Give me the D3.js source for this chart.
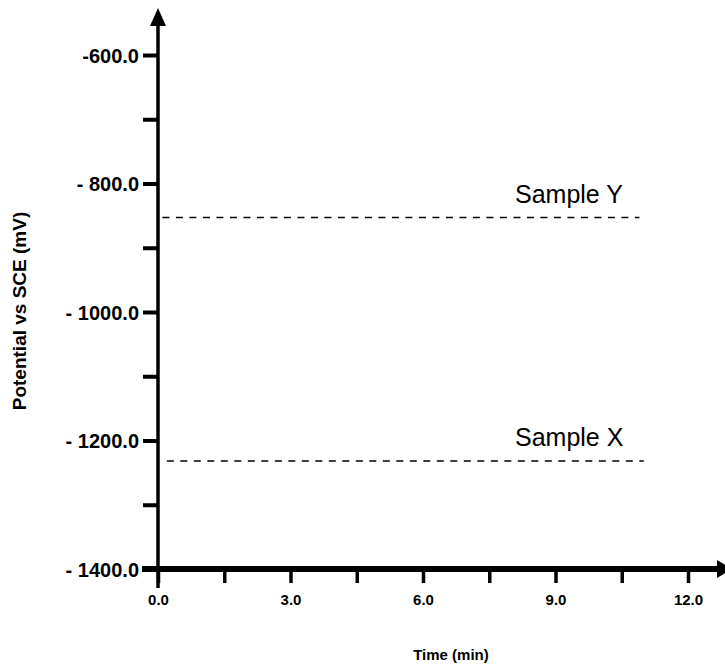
<!DOCTYPE html>
<html>
<head>
<meta charset="utf-8">
<script src="https://cdn.jsdelivr.net/npm/d3@7"></script>
<style>
  body { margin: 0; background: #fff; }
  svg { font-family: "Liberation Sans", Arial, sans-serif; }
</style>
</head>
<body>
<svg width="725" height="666"></svg>
<script>
// y ticks (mV) and their labels, only the even hundreds get text
var yTicks = [-600, -700, -800, -900, -1000, -1100, -1200, -1300, -1400]
var yLabels = {'-600': '-600.0', '-800': '- 800.0', '-1000': '- 1000.0', '-1200': '- 1200.0', '-1400': '- 1400.0'}

var xTicks = [0, 1.5, 3, 4.5, 6, 7.5, 9, 10.5, 12]
var xLabels = {'0': '0.0', '3': '3.0', '6': '6.0', '9': '9.0', '12': '12.0'}

// the two dashed levels
var samples = ['Sample Y', 'Sample X']
var sampleStart = [0.1, 0.2]
var sampleEnd = [10.9, 11.0]
var samplePotential = [-853, -1232]

var svg = d3.select('svg')

var x = d3.scaleLinear().domain([0, 12]).range([158, 688])
var y = d3.scaleLinear().domain([-1400, -600]).range([569, 55])

// y axis
var yAxis = svg.append('g')
    .attr('transform', 'translate(158,0)')
    .call(d3.axisLeft(y)
      .tickValues(yTicks)
      .tickSize(15)
      .tickPadding(4)
      .tickFormat(d => yLabels[d] || ''))
yAxis.select('.domain').remove()
yAxis.selectAll('line').attr('stroke', '#000').attr('stroke-width', 4)
yAxis.selectAll('text')
    .attr('fill', '#000')
    .style('font-size', '20px')
    .style('font-weight', 'bold')
    .attr('dy', '0.36em')

// x axis
var xAxis = svg.append('g')
    .attr('transform', 'translate(0,569)')
    .call(d3.axisBottom(x)
      .tickValues(xTicks)
      .tickSize(14)
      .tickPadding(11)
      .tickFormat(d => xLabels[d] || ''))
xAxis.select('.domain').remove()
xAxis.selectAll('line').attr('stroke', '#000').attr('stroke-width', 3.5)
xAxis.selectAll('text')
    .attr('fill', '#000')
    .style('font-size', '15px')
    .style('font-weight', 'bold')

// axis lines with arrow heads
svg.append('line')
    .attr('x1', x(0)).attr('x2', x(0))
    .attr('y1', 588).attr('y2', 22)
    .attr('stroke', '#000').attr('stroke-width', 3.5)
svg.append('path')
    .attr('d', `M${x(0) - 8},26 L${x(0)},8 L${x(0) + 8},26 Z`)
    .attr('fill', '#000')

svg.append('line')
    .attr('x1', 142).attr('x2', 720)
    .attr('y1', y(-1400)).attr('y2', y(-1400))
    .attr('stroke', '#000').attr('stroke-width', 6)
svg.append('path')
    .attr('d', `M717,${y(-1400) - 9} L732,${y(-1400)} L717,${y(-1400) + 9} Z`)
    .attr('fill', '#000')

// dashed sample lines
var levels = svg.selectAll('.level')
    .data(samples)
    .enter()
    .append('g')

levels.append('line')
    .attr('x1', (d, i) => x(sampleStart[i]))
    .attr('x2', (d, i) => x(sampleEnd[i]))
    .attr('y1', (d, i) => y(samplePotential[i]))
    .attr('y2', (d, i) => y(samplePotential[i]))
    .attr('stroke', '#000')
    .attr('stroke-width', 1.5)
    .attr('stroke-dasharray', '7,6.5')

levels.append('text')
    .attr('x', 515)
    .attr('y', (d, i) => y(samplePotential[i]) - 15)
    .style('font-size', '25px')
    .text(d => d)

// axis titles
svg.append('text')
    .attr('x', 451).attr('y', 660)
    .attr('text-anchor', 'middle')
    .style('font-size', '15px')
    .style('font-weight', 'bold')
    .text('Time (min)')

svg.append('text')
    .attr('transform', 'translate(26,311) rotate(-90)')
    .attr('text-anchor', 'middle')
    .style('font-size', '19px')
    .style('font-weight', 'bold')
    .text('Potential vs SCE (mV)')
</script>
</body>
</html>
